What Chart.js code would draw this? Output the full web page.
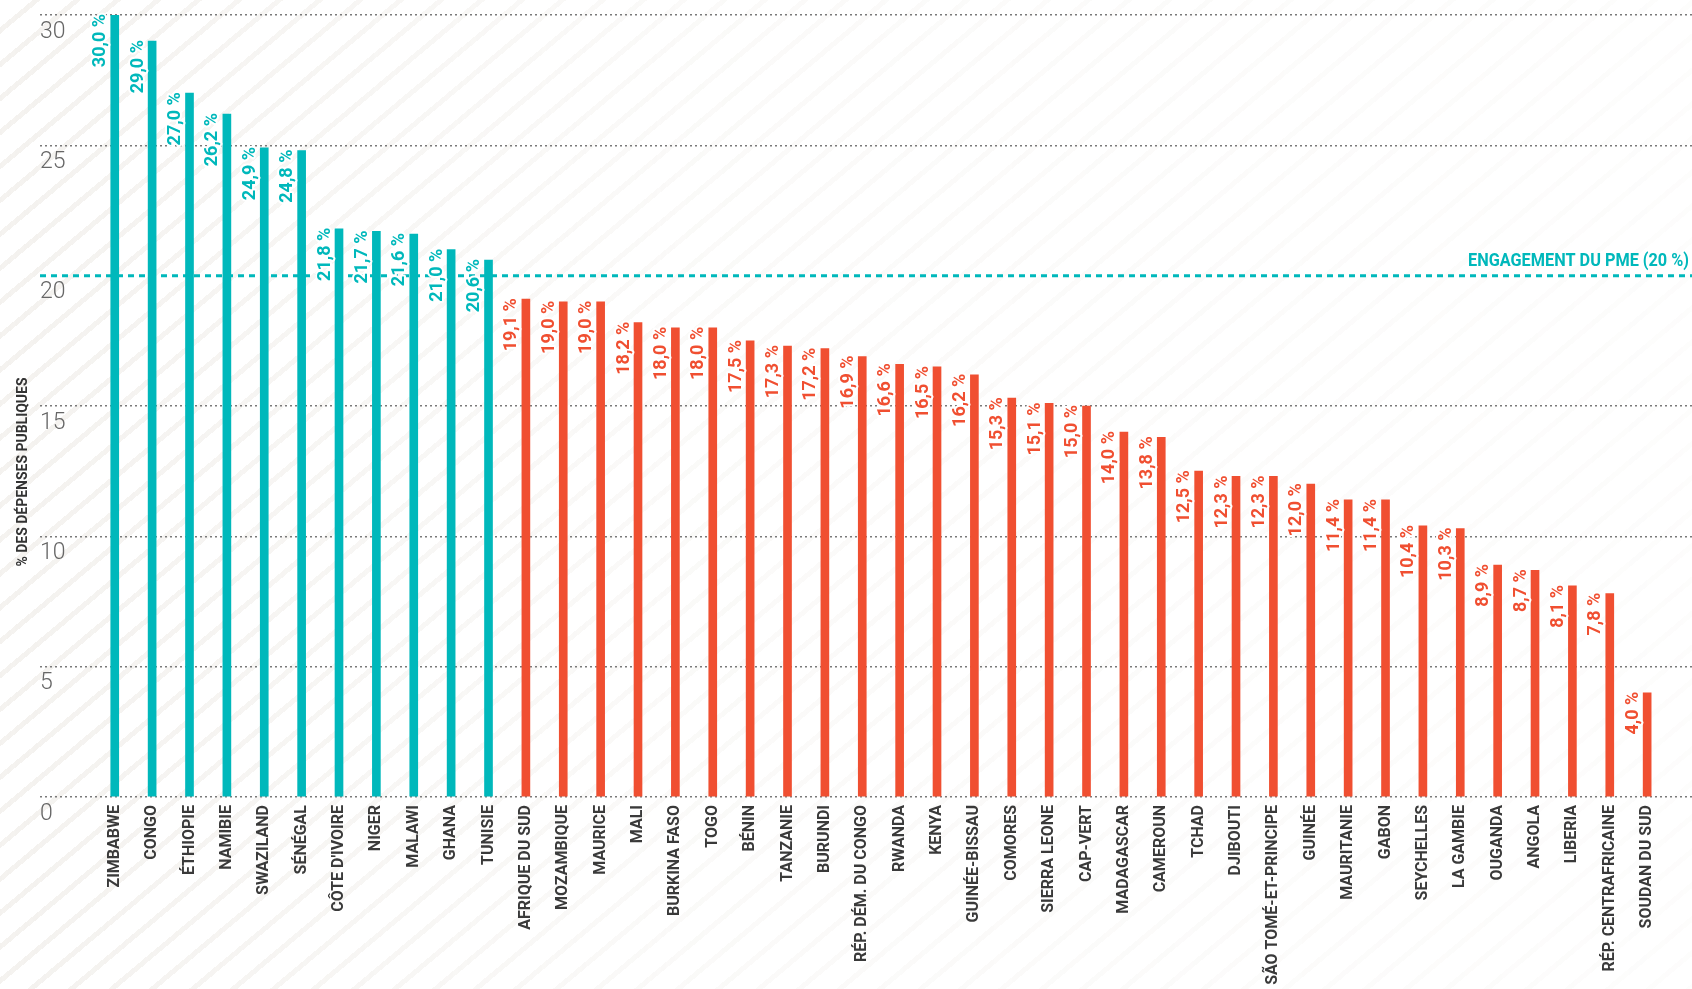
<!DOCTYPE html>
<html lang="fr">
<head>
<meta charset="utf-8">
<title>Part de l'éducation dans les dépenses publiques</title>
<script src="https://cdn.jsdelivr.net/npm/chart.js@4.4.1/dist/chart.umd.min.js"></script>
<style>
  html, body { margin: 0; padding: 0; background: #fff; }
  .wrap { position: relative; width: 1692px; height: 989px; overflow: hidden; }
  /* light diagonal brush strokes behind the chart */
  .wrap::before {
    content: '';
    position: absolute;
    inset: 0;
    background: repeating-linear-gradient(140deg, transparent 0 21px, rgba(233, 229, 223, 0.5) 21px 26px);
    -webkit-mask-image: linear-gradient(to right, #000 0%, rgba(0, 0, 0, 0.4) 40%, rgba(0, 0, 0, 0.18) 100%);
    mask-image: linear-gradient(to right, #000 0%, rgba(0, 0, 0, 0.4) 40%, rgba(0, 0, 0, 0.18) 100%);
  }
  canvas { position: relative; display: block; }
</style>
</head>
<body>
<div class="wrap">
  <canvas id="bar_spending_chart" width="1692" height="989"></canvas>
</div>
<script>
const spending_chart = document.querySelector('#bar_spending_chart')

const countries = [
    'ZIMBABWE', 'CONGO', 'ÉTHIOPIE', 'NAMIBIE', 'SWAZILAND', 'SÉNÉGAL',
    "CÔTE D'IVOIRE", 'NIGER', 'MALAWI', 'GHANA', 'TUNISIE',
    'AFRIQUE DU SUD', 'MOZAMBIQUE', 'MAURICE', 'MALI', 'BURKINA FASO', 'TOGO',
    'BÉNIN', 'TANZANIE', 'BURUNDI', 'RÉP. DÉM. DU CONGO', 'RWANDA', 'KENYA',
    'GUINÉE-BISSAU', 'COMORES', 'SIERRA LEONE', 'CAP-VERT', 'MADAGASCAR',
    'CAMEROUN', 'TCHAD', 'DJIBOUTI', 'SÃO TOMÉ-ET-PRINCIPE', 'GUINÉE',
    'MAURITANIE', 'GABON', 'SEYCHELLES', 'LA GAMBIE', 'OUGANDA', 'ANGOLA',
    'LIBERIA', 'RÉP. CENTRAFRICAINE', 'SOUDAN DU SUD'
]
const spending = [
    30.0, 29.0, 27.0, 26.2, 24.9, 24.8, 21.8, 21.7, 21.6, 21.0, 20.6,
    19.1, 19.0, 19.0, 18.2, 18.0, 18.0, 17.5, 17.3, 17.2, 16.9, 16.6, 16.5,
    16.2, 15.3, 15.1, 15.0, 14.0, 13.8, 12.5, 12.3, 12.3, 12.0, 11.4, 11.4,
    10.4, 10.3, 8.9, 8.7, 8.1, 7.8, 4.0
]
const y_ticks = [0, 5, 10, 15, 20, 25, 30]
const pme_target = 20

const teal = '#00B8BB'
const red = '#F04F31'
const bar_colors = spending.map(v => v >= pme_target ? teal : red)

const fmt = v => v.toFixed(1).replace('.', ',') + ' %'

// dashed commitment line at 20 % with its caption
const pme_line = {
    id: 'pme_line',
    beforeDatasetsDraw(chart) {
        const { ctx, chartArea, scales } = chart
        const y = scales.y.getPixelForValue(pme_target)
        ctx.save()
        ctx.strokeStyle = teal
        ctx.lineWidth = 3
        ctx.setLineDash([6, 5])
        ctx.beginPath()
        ctx.moveTo(chartArea.left, y)
        ctx.lineTo(chartArea.right, y)
        ctx.stroke()
        ctx.setLineDash([])
        ctx.font = '700 18px Roboto'
        ctx.fillStyle = teal
        ctx.textAlign = 'right'
        ctx.textBaseline = 'alphabetic'
        ctx.fillText('ENGAGEMENT DU PME (' + pme_target + ' %)', chartArea.right - 3, y - 10, 221)
        ctx.restore()
    }
}

// vertical value labels next to each bar top
const bar_labels = {
    id: 'bar_labels',
    afterDatasetsDraw(chart) {
        const ctx = chart.ctx
        const bars = chart.getDatasetMeta(0).data
        ctx.save()
        ctx.font = '700 18px Roboto'
        ctx.textAlign = 'right'
        ctx.textBaseline = 'middle'
        ctx.lineJoin = 'round'
        bars.forEach((bar, i) => {
            const text = fmt(spending[i])
            ctx.save()
            ctx.translate(bar.x - 14, bar.y - 1)
            ctx.rotate(-Math.PI / 2)
            ctx.strokeStyle = '#fff'
            ctx.lineWidth = 4
            ctx.strokeText(text, 0, 0)
            ctx.fillStyle = bar_colors[i]
            ctx.fillText(text, 0, 0)
            ctx.restore()
        })
        ctx.restore()
    }
}

// y axis title, set apart on the far left
const axis_title = {
    id: 'axis_title',
    afterDraw(chart) {
        const ctx = chart.ctx
        ctx.save()
        ctx.translate(23, 472)
        ctx.rotate(-Math.PI / 2)
        ctx.font = '700 14px Roboto'
        ctx.fillStyle = '#333'
        ctx.textAlign = 'center'
        ctx.textBaseline = 'middle'
        ctx.fillText('% DES DÉPENSES PUBLIQUES', 0, 0, 189)
        ctx.restore()
    }
}

const data_spending = {
    datasets: [{
        data: spending.map((v, i) => ({ x: i, y: v })),
        backgroundColor: bar_colors,
        barThickness: 8
    }]
}

const options_spending = {
    responsive: false,
    animation: false,
    devicePixelRatio: 1,
    layout: {
        padding: { left: 40, top: 15, right: 0, bottom: 0 }
    },
    plugins: {
        legend: false,
        tooltip: { enabled: false }
    },
    scales: {
        x: {
            type: 'linear',
            offset: false,
            min: -2,
            max: 42.2,
            grid: { display: false, drawTicks: false, offset: false },
            border: { display: false },
            ticks: {
                stepSize: 1,
                autoSkip: false,
                minRotation: 90,
                maxRotation: 90,
                padding: 8,
                color: '#3a3a3a',
                font: { family: 'Roboto', size: 16, weight: '700' },
                callback: value => Number.isInteger(value) ? (countries[value] || '') : ''
            },
            afterFit: scale => {
                scale.height = 192
                scale.paddingLeft = 0
                scale.paddingRight = 0
            }
        },
        y: {
            min: 0,
            max: 30,
            grid: {
                color: ctx => ctx.tick && ctx.tick.value === pme_target ? 'rgba(0,0,0,0)' : '#7a7a7a',
                lineWidth: 1.5,
                drawTicks: false
            },
            border: { display: false, dash: [2, 3] },
            ticks: {
                mirror: true,
                padding: 0,
                labelOffset: 17,
                color: '#666',
                font: { family: 'Roboto', size: 23, weight: '300' }
            },
            afterBuildTicks: scale => {
                scale.ticks = y_ticks.map(v => ({ value: v }))
            },
            afterFit: scale => {
                scale.paddingTop = 0
                scale.paddingBottom = 0
            }
        }
    }
}

new Chart(spending_chart, {
    type: 'bar',
    data: data_spending,
    options: options_spending,
    plugins: [pme_line, bar_labels, axis_title]
})
</script>
</body>
</html>
